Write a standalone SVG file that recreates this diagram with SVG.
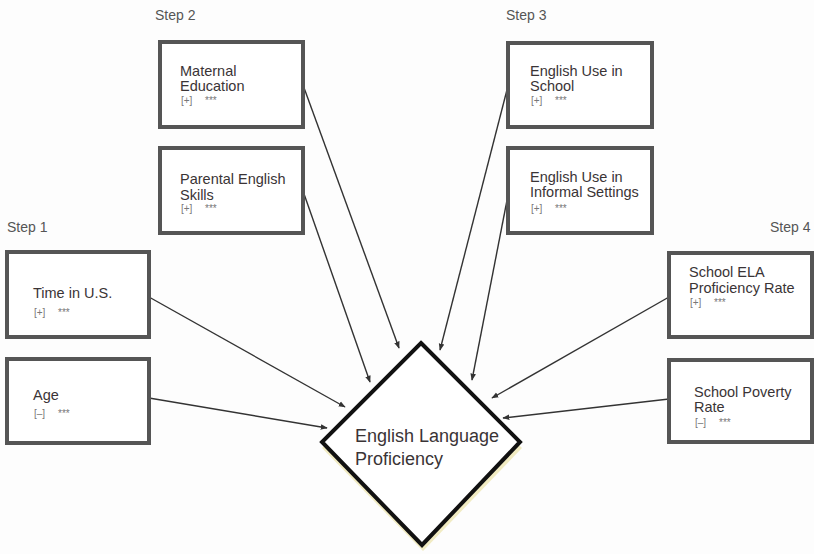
<svg xmlns="http://www.w3.org/2000/svg" width="814" height="554" viewBox="0 0 814 554">
<defs>
<style>
.box{fill:#fff;stroke:#555;stroke-width:4}
.t{font-family:"Liberation Sans","DejaVu Sans",sans-serif;font-size:14.5px;fill:#3a3436}
.s{font-family:"Liberation Sans","DejaVu Sans",sans-serif;font-size:10px;fill:#777}
.step{font-family:"Liberation Sans","DejaVu Sans",sans-serif;font-size:14px;fill:#555}
.c{stroke:#333;stroke-width:1.4;fill:none;marker-end:url(#ah)}
.big{font-family:"Liberation Sans","DejaVu Sans",sans-serif;font-size:18px;fill:#3a3436}
</style>
<marker id="ah" viewBox="0 0 10 10" refX="9" refY="5" markerWidth="7" markerHeight="7" orient="auto" markerUnits="userSpaceOnUse">
<path d="M0,1 L10,5 L0,9 Z" fill="#333"/>
</marker>
</defs>
<rect width="814" height="554" fill="#fdfdfd"/>
<text class="step" x="155" y="20">Step 2</text>
<text class="step" x="506" y="20">Step 3</text>
<text class="step" x="7" y="232">Step 1</text>
<text class="step" x="770" y="232">Step 4</text>
<g id="connectors">
<line class="c" x1="303" y1="85" x2="399" y2="348"/>
<line class="c" x1="303" y1="191" x2="370" y2="382"/>
<line class="c" x1="149" y1="297" x2="345" y2="407"/>
<line class="c" x1="149" y1="398" x2="327" y2="428"/>
<line class="c" x1="509" y1="82" x2="440" y2="350"/>
<line class="c" x1="509" y1="190" x2="472" y2="380"/>
<line class="c" x1="669" y1="297" x2="492" y2="398"/>
<line class="c" x1="669" y1="399" x2="503" y2="418"/>
</g>
<g id="maternal">
<rect class="box" x="160" y="42" width="143" height="85"/>
<text class="t" x="180" y="76">Maternal</text>
<text class="t" x="180" y="91">Education</text>
<text class="s" y="104"><tspan x="181">[+]</tspan><tspan x="205">***</tspan></text>
</g>
<g id="parental">
<rect class="box" x="160" y="148" width="143" height="85"/>
<text class="t" x="180" y="184">Parental English</text>
<text class="t" x="180" y="200">Skills</text>
<text class="s" y="212"><tspan x="181">[+]</tspan><tspan x="205">***</tspan></text>
</g>
<g id="school-use">
<rect class="box" x="508" y="43" width="144" height="84"/>
<text class="t" x="530" y="76">English Use in</text>
<text class="t" x="530" y="91">School</text>
<text class="s" y="104"><tspan x="531">[+]</tspan><tspan x="555">***</tspan></text>
</g>
<g id="informal-use">
<rect class="box" x="508" y="148" width="144" height="85"/>
<text class="t" x="530" y="182">English Use in</text>
<text class="t" x="530" y="197">Informal Settings</text>
<text class="s" y="212"><tspan x="531">[+]</tspan><tspan x="555">***</tspan></text>
</g>
<g id="time">
<rect class="box" x="7" y="252" width="142" height="85"/>
<text class="t" x="33" y="298">Time in U.S.</text>
<text class="s" y="316"><tspan x="34">[+]</tspan><tspan x="58">***</tspan></text>
</g>
<g id="age">
<rect class="box" x="7" y="359" width="142" height="84"/>
<text class="t" x="33" y="400">Age</text>
<text class="s" y="417"><tspan x="34">[–]</tspan><tspan x="58">***</tspan></text>
</g>
<g id="ela">
<rect class="box" x="669" y="253" width="143" height="84"/>
<text class="t" x="689" y="277">School ELA</text>
<text class="t" x="689" y="293">Proficiency Rate</text>
<text class="s" y="306"><tspan x="690">[+]</tspan><tspan x="714">***</tspan></text>
</g>
<g id="poverty">
<rect class="box" x="669" y="360" width="143" height="82"/>
<text class="t" x="694" y="397">School Poverty</text>
<text class="t" x="694" y="412">Rate</text>
<text class="s" y="426"><tspan x="695">[–]</tspan><tspan x="719">***</tspan></text>
</g>
<g id="elp">
<polygon points="421,350 522,448 423,551 322,448" fill="#ebe3a8" opacity="0.7"/>
<polygon points="421,343 520,442 422,545 322,442" fill="#fff" stroke="#111" stroke-width="4" stroke-linejoin="miter"/>
<text class="big" x="355" y="442">English Language</text>
<text class="big" x="355" y="465">Proficiency</text>
</g>
</svg>
